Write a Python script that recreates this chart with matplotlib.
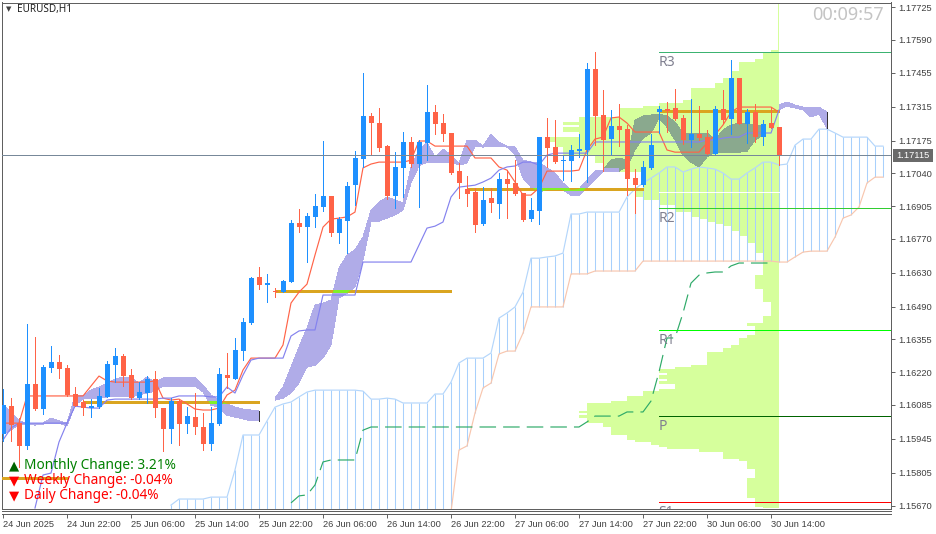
import numpy as np
import matplotlib
matplotlib.use('Agg')
import matplotlib.pyplot as plt
from matplotlib.lines import Line2D
from matplotlib.patches import Rectangle
from matplotlib.path import Path

plt.rcParams['font.family'] = ['Noto Sans', 'DejaVu Sans']
plt.rcParams['lines.antialiased'] = False
plt.rcParams['patch.antialiased'] = False


def prices(points):
    # all series are kept as points above 1.15000
    return 1.15 + np.array(points, dtype=float) * 1e-5


# candles
opens = prices([965,1080,1010,915,1171,1068,1237,1262,1237,1130,1097,1072,1076,1118,1249,1286,1208,1113,1134,1192,1072,985,1101,1006,1035,994,924,1006,1208,1192,1307,1423,1612,1579,1554,1550,1592,1835,1818,1860,1901,1946,1794,1843,1991,2099,2276,2247,2152,1946,2062,2169,2078,2165,2292,2247,2206,2049,1975,1963,1831,1938,1913,2016,2000,1958,1851,1884,2189,2148,2090,2090,2132,2136,2469,2280,2181,2235,2222,2020,1991,2062,2292,2305,2309,2268,2177,2202,2189,2119,2305,2263,2432,2243,2292,2189,2247,2230])
highs = prices([1151,1113,1031,1419,1365,1249,1328,1291,1249,1159,1105,1109,1155,1266,1320,1295,1233,1179,1204,1225,1072,1113,1109,1076,1134,1052,1076,1237,1299,1361,1443,1612,1653,1625,1567,1600,1847,1892,1876,1954,2173,1946,1860,2004,2132,2453,2288,2309,2156,2127,2210,2189,2177,2404,2321,2284,2206,2082,2029,1979,1983,1979,2041,2053,2094,1958,1938,2189,2268,2259,2111,2156,2202,2494,2540,2383,2301,2325,2239,2057,2090,2202,2317,2334,2387,2280,2346,2317,2218,2317,2383,2507,2432,2305,2325,2259,2313,2230])
lows = prices([936,936,829,903,1064,1047,1221,1196,1122,1080,1043,1035,1072,1118,1179,1163,1109,1109,1093,1035,895,928,920,969,965,899,899,1002,1155,1192,1270,1419,1562,1509,1530,1550,1592,1798,1674,1818,1884,1781,1752,1711,1909,2066,2119,2132,1934,1897,1942,2066,1901,2094,2202,2173,2037,1938,1905,1798,1827,1880,1855,1855,1950,1843,1843,1831,2066,2082,2012,2008,2107,2004,2156,2049,2115,2152,1950,1876,1987,2057,2206,2210,2259,2160,2148,2177,2119,2115,2247,2202,2243,2165,2169,2156,2226,2073])
closes = prices([1084,1002,916,1171,1068,1241,1262,1233,1126,1080,1072,1080,1122,1254,1286,1204,1113,1138,1192,1072,985,1101,1006,1039,994,924,1010,1212,1196,1311,1427,1608,1579,1587,1550,1596,1835,1818,1864,1905,1946,1794,1851,1987,2103,2276,2247,2144,1946,2066,2169,2078,2169,2292,2243,2202,2041,1999,1954,1827,1930,1917,2016,1996,1954,1847,1888,2189,2144,2086,2094,2136,2140,2469,2276,2177,2235,2218,2016,1991,2066,2156,2305,2296,2263,2177,2202,2185,2119,2305,2259,2432,2243,2292,2189,2243,2226,2111])

# red and violet moving lines
tenkan = prices([1010,1010,1010,1122,1122,1122,1122,1122,1122,1122,1122,1163,1204,1184,1179,1179,1179,1179,1179,1184,1113,1105,1109,1089,1068,1064,1064,1072,1126,1146,1229,1278,1278,1278,1278,1332,1505,1550,1583,1703,1818,1851,1855,1860,1880,2062,2078,2086,2086,2086,2086,2094,2173,2173,2152,2152,2152,2152,2152,2103,2103,2103,2066,2053,2004,1950,1950,1979,2049,2049,2049,2049,2053,2136,2181,2189,2268,2272,2247,2210,2210,2210,2210,2136,2127,2127,2127,2127,2165,2198,2239,2292,2313,2313,2313,2313,2313,2292])
kijun = prices([660,796,804,932,1010,1080,1076,1072,1072,1105,1109,1109,1109,1109,1109,1109,1113,1113,1122,1122,1122,1122,1118,1118,1159,1134,1208,1270,1278,1278,1278,1278,1369,1390,1394,1394,1538,1538,1538,1538,1538,1674,1674,1674,1674,1674,1674,1674,1744,1814,1822,1839,1942,1983,1987,1991,2004,2020,2053,2066,2070,2086,2086,2074,2115,2123,2123,2123,2123,2123,2169,2169,2169,2169,2169,2169,2169,2169,2169,2169,2169,2169,2169,2169,2177,2177,2185,2189,2189,2206,2206,2206,2206,2301])
kijun_start = 4
early_line = prices([940,990,1010,1010,1010,1010,1010,1010,1010])

# violet cloud, None where it breaks
cloud_top = prices([1084,1056,1019,1010,1010,1010,1031,1019,1010,1122,1122,1146,1159,1175,1192,1200,1196,1175,1200,1179,1196,1200,1200,1200,1200,1167,1126,1105,1089,1076,1068,1064,1060,None,1113,1159,1241,1324,1402,1497,1505,1517,1649,1703,1724,1777,1888,1921,1942,1930,1917,2066,2136,2165,2107,2140,2115,2082,2177,2177,2152,2202,2169,2152,2148,2094,2086,2086,2062,2041,2000,1971,1975,2012,2049,2053,2094,2103,2094,2259,2276,2280,2284,2276,2251,2206,2206,2206,2206,2177,2218,2239,2247,2247,2235,2239,None,2321,2334,2321,2313,2313,2313,2292])
cloud_bottom = prices([965,981,1006,1006,1002,1006,1010,1010,998,1084,1109,1113,1113,1118,1118,1118,1118,1126,1134,1142,1163,1163,1163,1163,1163,1138,1084,1076,1043,1035,1027,1019,1019,None,1105,1113,1134,1175,1241,1249,1278,1332,1526,1546,1571,1682,1839,1843,1855,1868,1888,2000,2070,2086,2086,2086,2086,2074,2082,2152,2148,2152,2152,2148,2115,2020,1983,1963,1971,1971,1971,1950,1950,1983,2012,2049,2049,2049,2066,2136,2185,2206,2268,2230,2177,2115,2086,2066,2107,2127,2127,2127,2127,2131,2177,2198,None,2301,2317,2309,2301,2272,2284,2226])
cloud_breaks = [0, 32, 103]

# hatched cloud
hatch_start = 21
hatch_top = prices([672,697,697,697,697,705,705,705,817,961,961,961,1019,1076,1089,1097,1118,1138,1146,1146,1146,1146,1146,1146,1142,1109,1109,1113,1109,1093,1093,1093,1093,1130,1130,1179,1258,1278,1278,1278,1299,1443,1464,1489,1550,1690,1690,1695,1699,1711,1872,1872,1880,1880,1880,1880,1880,1942,1975,2000,2020,2041,2066,2066,2045,2057,2066,2062,2057,2041,2016,2016,2041,2062,2086,2086,2074,2078,2156,2181,2181,2222,2222,2206,2189,2189,2189,2189,2152,2152])
hatch_bottom = prices([500]*35 + [644,899,916,1052,1155,1175,1295,1307,1307,1381,1489,1489,1489,1489,1489,1625,1625,1625,1637,1637,1637,1637,1637,1637] + [1678]*17 + [1674,1674,1695,1715,1719,1719,1719,1777,1855,1868,1901,2000,2024,2024])

# dashed green line
dashed_start = 36
dashed_line = prices([681,710,714,755,850,858,858,858,858,981] + [994]*27 + [1015,1039,1039,1039,1039,1056,1056,1056,1101,1221,1361,1361,1464,1587,1620,1629,1633,1633,1658,1670,1670,1670,1670,1670])

# volume profile: top of each bin, bars of width
profile_tops = prices([2746,2548,2536,2511,2498,2461,2432,2412,2391,2342,2329,2317,2309,2272,2251,2239,2231,2210,2189,2169,2148,2115,2082,2062,2045,1979,1942,1930,1909,1880,1860,1851,1839,1831,1822,1802,1781,1752,1711,1620,1563,1509,1451,1423,1410,1373,1361,1332,1320,1303,1249,1241,1233,1216,1208,1192,1184,1171,1151,1142,1122,1101,1093,1060,1052,1043,1031,1010,994,961,940,932,920,911,903,891,862,854,821,784,701,664,658])
profile_widths = [0.15,1,2,3,5,6,7,8,11,12,15,17,20,25,27,25,27,25,29,28,27,23,22,20,17,18,17,15,13,11,10,9,8,7,6,5,4,3,2,3,2,1,2,4,3,4,5,6,7,9,11,13,15,14,15,14,15,13,15,17,19,21,24,25,24,25,24,22,21,19,18,16,15,14,10,7,5,4,3,4,3,2]

# session lines
gold_starts = [-1, 10, 34, 58, 82]
gold_ends = [8, 32, 56, 80, 97]
gold_levels = prices([784, 1097, 1554, 1975, 2296])
white_level = prices([1963])[0]

# pivots
pivot_names = ['R3', 'R2', 'R1', 'P', 'S1']
pivot_levels = prices([2540, 1897, 1394, 1039, 683])
pivot_colors = ['#3cb371', '#32cd32', '#00ff00', '#006400', '#ff0000']
pivot_start = 82

current_price = 1.17115

ytick_values = [1.17725,1.17590,1.17455,1.17315,1.17175,1.17040,1.16905,1.16770,1.16630,1.16490,1.16355,1.16220,1.16085,1.15945,1.15805,1.15670]
xtick_bars = [0,8,16,24,32,40,48,56,64,72,80,88,96]
xtick_labels = ['24 Jun 2025','24 Jun 22:00','25 Jun 06:00','25 Jun 14:00','25 Jun 22:00','26 Jun 06:00','26 Jun 14:00','26 Jun 22:00','27 Jun 06:00','27 Jun 14:00','27 Jun 22:00','30 Jun 06:00','30 Jun 14:00']

W, H = 937, 534
THIN = 0.7
SLOPED = 0.85
fig = plt.figure(figsize=(W / 100, H / 100), dpi=100)
ax = fig.add_axes([2.5 / W, 1 - 508.5 / H, 888.5 / W, 506 / H])
ax.set_xlim(-0.0625, 111)
ax.set_ylim(1.15658, 1.17744)

n_bars = len(closes)
bars = np.arange(n_bars)
right_edge = n_bars - 1 + 0.06

# profile
widths = np.array(profile_widths + [profile_widths[-1]], dtype=float)
profile = ax.fill_betweenx(profile_tops, right_edge - widths, right_edge, step='post',
                           color='#d6ff9c', linewidth=0, zorder=1)
profile_path = Path.make_compound_path(*profile.get_paths())

# hatched cloud
hatch_x = hatch_start + np.arange(len(hatch_top))
ax.vlines(hatch_x, hatch_bottom, hatch_top, color='#a8d0fc', lw=0.75, zorder=2, antialiased=True)
ax.plot(hatch_x, hatch_top, color='#b4d6fb', lw=SLOPED, zorder=2, antialiased=True)
ax.plot(hatch_x, hatch_bottom, color='#f8c6ae', lw=SLOPED, zorder=2, antialiased=True)

# violet cloud, darker where it crosses the profile
all_bars = np.arange(len(cloud_top))
cloud = ax.fill_between(all_bars, cloud_bottom, cloud_top, color='#b0ace8', linewidth=0, zorder=3)
cloud_path = Path.make_compound_path(*cloud.get_paths())
dark_cloud = ax.fill_between(all_bars, cloud_bottom, cloud_top, color='#8aa98e', linewidth=0, zorder=3.1)
dark_cloud.set_clip_path(profile_path, transform=ax.transData)
ax.vlines(cloud_breaks, cloud_bottom[cloud_breaks], cloud_top[cloud_breaks], color='#333333', lw=THIN, zorder=3.2)

# session lines
ax.hlines(white_level, 82, 97, color='white', lw=THIN, zorder=3.3)
ax.hlines(gold_levels, gold_starts, gold_ends, color='#daa520', lw=2.1, zorder=3.5)
bright = ax.hlines(gold_levels, gold_starts, gold_ends, color='#80f028', lw=2.1, zorder=3.6)
bright.set_clip_path(cloud_path, transform=ax.transData)

# moving lines
ax.plot(bars, tenkan, color='#ff6347', lw=SLOPED, zorder=4, antialiased=True)
ax.plot(kijun_start + np.arange(len(kijun)), kijun, color='#8482ee', lw=SLOPED, zorder=4, antialiased=True)
ax.plot(np.arange(len(early_line)), early_line, color='#8482ee', lw=SLOPED, zorder=4, antialiased=True)
ax.plot(dashed_start + np.arange(len(dashed_line)), dashed_line, color='#2eaa68', lw=SLOPED,
        dashes=(14, 6), zorder=4, antialiased=True)

# candles
up = closes >= opens
colors = np.where(up, '#1e90ff', '#ff6347')
ax.vlines(bars, lows, highs, colors=colors, lw=THIN, zorder=5)
body_low = np.minimum(opens, closes)
body_high = np.maximum(opens, closes)
ax.bar(bars, body_high - body_low, bottom=body_low, width=5 / 8, color=colors, linewidth=0, zorder=5)

# pivots
for name, level, color in zip(pivot_names, pivot_levels, pivot_colors):
    ax.hlines(level, pivot_start, 111, color=color, lw=THIN, zorder=6)
    ax.annotate(name, (pivot_start - 0.05, level), xytext=(0, -2), textcoords='offset points',
                va='top', ha='left', fontsize=10, color='#808090', zorder=6, annotation_clip=False, clip_on=True)

ax.axhline(current_price, color='#778899', lw=THIN, zorder=6)

# frame and axes
for side in ['top', 'left', 'right', 'bottom']:
    ax.spines[side].set_color('#606060')
    ax.spines[side].set_linewidth(THIN)
ax.spines['bottom'].set_position(('outward', 3.6))
ax.yaxis.tick_right()
ax.set_yticks(ytick_values)
ax.set_yticklabels(['%.5f' % v for v in ytick_values], family='Liberation Sans')
ax.set_xticks(xtick_bars)
ax.set_xticklabels(xtick_labels, ha='left', family='Liberation Sans')
ax.tick_params(axis='y', length=3, width=THIN, color='#606060', labelcolor='#404040', labelsize=6.7, pad=2.5)
ax.tick_params(axis='x', length=3, width=THIN, color='#606060', labelcolor='#404040', labelsize=6.7, pad=1.5)


def fx(x):
    return x / W


def fy(y):
    return 1 - y / H


for y in [508.5, 511]:
    fig.add_artist(Line2D([fx(2.5), fx(891)], [fy(y), fy(y)], color='#606060', lw=THIN))

# current price flag
fig.add_artist(Rectangle((fx(893), fy(161.5)), 40 / W, 12.5 / H, transform=fig.transFigure,
                         facecolor='#6a6a6a', edgecolor='none'))
fig.text(fx(913), fy(155.5), '1.17115', color='white', fontsize=6.7, ha='center', va='center', family='Liberation Sans')

# captions
fig.text(fx(8.5), fy(9.5), '\u25bc', color='#404040', fontsize=5, ha='center', va='center', family='DejaVu Sans')
fig.text(fx(17), fy(9.5), 'EURUSD,H1', color='#202020', fontsize=7.2, ha='left', va='center')
fig.text(fx(812), fy(15), '00:09:57', color='#c4c4c4', fontsize=13, ha='left', va='center')

change_labels = ['Monthly Change: 3.21%', 'Weekly Change: -0.04%', 'Daily Change: -0.04%']
change_glyphs = ['\u25b2', '\u25bc', '\u25bc']
change_glyph_colors = ['#006400', '#ff0000', '#ff0000']
change_colors = ['#008000', '#ff0000', '#ff0000']
change_y = [465.5, 480.5, 495.5]
for text, glyph, gc, c, y in zip(change_labels, change_glyphs, change_glyph_colors, change_colors, change_y):
    fig.text(fx(14), fy(y), glyph, color=gc, fontsize=9.5, ha='center', va='center', family='DejaVu Sans')
    fig.text(fx(24), fy(y), text, color=c, fontsize=9.85, ha='left', va='center')

fig.savefig('out.png', dpi=100)
